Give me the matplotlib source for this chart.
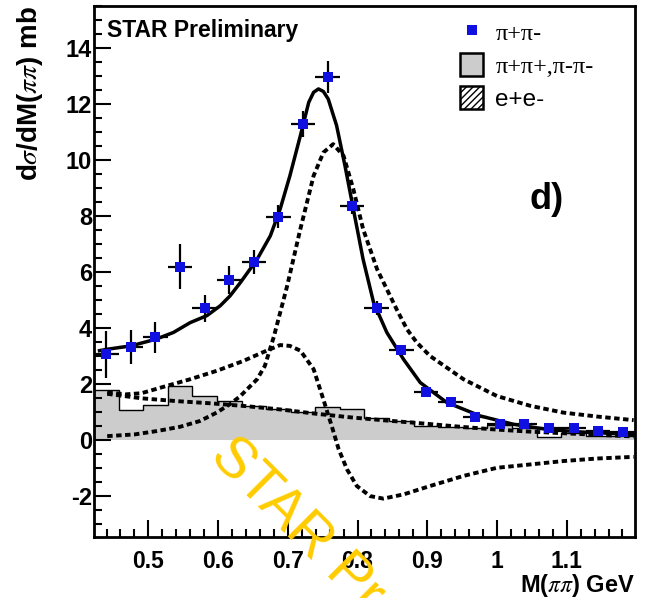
import numpy as np
import matplotlib
matplotlib.use("Agg")
import matplotlib.pyplot as plt
from matplotlib.lines import Line2D
from matplotlib.patches import Patch
from matplotlib.ticker import MultipleLocator

plt.rcParams['font.family'] = ['Liberation Sans', 'DejaVu Sans']
plt.rcParams['mathtext.fontset'] = 'stix'
plt.rcParams['axes.unicode_minus'] = False

# binning of the pi+pi- mass spectrum (GeV)
bin_edges = np.linspace(0.422, 1.198, 23)
bin_centers = 0.5 * (bin_edges[:-1] + bin_edges[1:])
half_width = 0.5 * (bin_edges[1] - bin_edges[0])

# pi+pi- data points (mb/GeV)
pipi_y = [3.07, 3.33, 3.67, 6.20, 4.71, 5.73, 6.37, 7.98, 11.29, 12.95, 8.37,
          4.71, 3.21, 1.74, 1.38, 0.83, 0.57, 0.60, 0.43, 0.45, 0.33, 0.30]
pipi_err = [0.83, 0.60, 0.57, 0.80, 0.48, 0.50, 0.42, 0.42, 0.48, 0.57, 0.30,
            0.25, 0.20, 0.12, 0.10, 0.08, 0.06, 0.06, 0.05, 0.05, 0.04, 0.04]

# like-sign pairs (pi+pi+, pi-pi-)
like_sign = [1.79, 1.08, 1.26, 1.94, 1.58, 1.40, 1.22, 1.11, 1.00, 1.19, 1.11,
             0.79, 0.69, 0.51, 0.49, 0.45, 0.55, 0.45, 0.13, 0.27, 0.17, 0.15]

# total fit
fit_x = [0.430, 0.441, 0.475, 0.511, 0.536, 0.560, 0.584, 0.603, 0.617, 0.632, 0.656,
         0.675, 0.689, 0.703, 0.718, 0.730, 0.737, 0.744, 0.751, 0.758, 0.770,
         0.782, 0.794, 0.808, 0.823, 0.842, 0.866, 0.890, 0.928, 0.976, 1.024,
         1.072, 1.119, 1.196]
fit_y = [3.20, 3.25, 3.37, 3.61, 3.85, 4.20, 4.45, 4.80, 5.15, 5.63, 6.46,
         7.30, 8.25, 9.44, 10.87, 12.06, 12.42, 12.54, 12.45, 12.18, 11.23,
         9.80, 8.25, 6.46, 4.92, 3.85, 2.89, 2.06, 1.35, 0.87, 0.57,
         0.39, 0.30, 0.21]

# rho Breit-Wigner component
rho_x = [0.441, 0.480, 0.512, 0.545, 0.574, 0.598, 0.617, 0.632, 0.656, 0.667,
         0.680, 0.699, 0.718, 0.737, 0.751, 0.765, 0.780, 0.794, 0.808, 0.828,
         0.856, 0.871, 0.885, 0.904, 0.952, 1.000, 1.048, 1.095, 1.143, 1.196]
rho_y = [0.15, 0.21, 0.33, 0.48, 0.69, 0.99, 1.29, 1.58, 2.18, 2.65,
         3.70, 5.50, 7.54, 9.44, 10.27, 10.57, 10.15, 8.96, 7.54, 6.11,
         4.68, 3.96, 3.49, 3.01, 2.18, 1.58, 1.23, 0.99, 0.85, 0.72]

# interference term
intf_x = [0.441, 0.467, 0.490, 0.526, 0.560, 0.598, 0.636, 0.665, 0.689, 0.703,
          0.718, 0.737, 0.751, 0.763, 0.773, 0.785, 0.799, 0.818, 0.837, 0.866,
          0.904, 0.952, 1.000, 1.048, 1.095, 1.143, 1.196]
intf_y = [1.72, 1.64, 1.68, 1.94, 2.18, 2.48, 2.83, 3.15, 3.40, 3.37,
          3.20, 2.54, 1.46, 0.51, -0.32, -1.04, -1.63, -1.99, -2.08, -1.93,
          -1.63, -1.27, -0.98, -0.86, -0.74, -0.65, -0.59]

# direct (non-resonant) pi+pi- term
direct_x = [0.441, 0.490, 0.540, 0.590, 0.640, 0.690, 0.740, 0.790, 0.840, 0.890,
            0.940, 0.990, 1.040, 1.090, 1.140, 1.196]
direct_y = [1.66, 1.50, 1.40, 1.32, 1.22, 1.10, 0.95, 0.82, 0.71, 0.61,
            0.50, 0.40, 0.32, 0.26, 0.20, 0.14]

fig = plt.figure(figsize=(6.48, 5.98), dpi=100)
ax = fig.add_axes([0.145, 0.102, 0.835, 0.888])

ax.stairs(like_sign, bin_edges, fill=True, color='#cccccc', zorder=1)
ax.stairs(like_sign, bin_edges, color='black', lw=1.0, zorder=2)

dots = (0, (1.4, 0.9))
ax.plot(rho_x, rho_y, color='black', lw=2.8, ls=dots, zorder=3)
ax.plot(intf_x, intf_y, color='black', lw=2.8, ls=dots, zorder=3)
ax.plot(direct_x, direct_y, color='black', lw=2.8, ls=dots, zorder=3)
ax.plot(fit_x, fit_y, color='black', lw=2.5, zorder=4)

ax.errorbar(bin_centers, pipi_y, xerr=half_width, yerr=pipi_err, fmt='none',
            ecolor='black', elinewidth=1.6, capsize=0, zorder=5)
ax.plot(bin_centers, pipi_y, 's', color='#1010e0', ms=7, mew=0, zorder=6)

ax.set_xlim(0.422, 1.198)
ax.set_ylim(-3.45, 15.5)
ax.xaxis.set_major_locator(MultipleLocator(0.1))
ax.xaxis.set_minor_locator(MultipleLocator(0.02))
ax.yaxis.set_major_locator(MultipleLocator(2))
ax.yaxis.set_minor_locator(MultipleLocator(0.5))
ax.set_xticks([0.5, 0.6, 0.7, 0.8, 0.9, 1.0, 1.1])
ax.set_xticklabels(['0.5', '0.6', '0.7', '0.8', '0.9', '1', '1.1'])
ax.tick_params(which='both', direction='in', top=False, right=False, width=1.5)
ax.tick_params(which='major', length=12)
ax.tick_params(which='minor', length=6)
ax.tick_params(axis='x', pad=9, labelsize=16.5)
ax.tick_params(axis='y', pad=1.5, labelsize=17)
for lab in ax.get_xticklabels() + ax.get_yticklabels():
    lab.set_fontweight('bold')
for sp in ax.spines.values():
    sp.set_linewidth(2)

ax.set_xlabel(r'M($\pi\pi$) GeV', fontsize=17, fontweight='bold', loc='right')
ax.xaxis.set_label_coords(1.0, -0.066)
ax.set_ylabel(r'd$\sigma$/dM($\pi\pi$) mb', fontsize=20, fontweight='bold', loc='top')
ax.yaxis.set_label_coords(-0.09, 1.0)

ax.text(0.024, 0.975, 'STAR Preliminary', transform=ax.transAxes, fontsize=16.5,
        fontweight='bold', ha='left', va='top')
ax.text(0.805, 0.635, 'd)', transform=ax.transAxes, fontsize=26,
        fontweight='bold', ha='left', va='center')

handles = [Line2D([], [], marker='s', color='#1010e0', ls='none', ms=7, mew=0),
           Patch(facecolor='#cccccc', edgecolor='black', lw=1.8),
           Patch(facecolor='white', edgecolor='black', hatch='/////', lw=1.8)]
labels = ['π+π-', 'π+π+,π-π-', 'e+e-']
leg = fig.legend(handles, labels, loc='upper left',
                 bbox_to_anchor=(460 / 648, 1 - 20 / 598), frameon=False,
                 borderpad=0, borderaxespad=0, handlelength=0.95,
                 handleheight=1.05, handletextpad=0.5, labelspacing=0.35,
                 fontsize=17.5)
leg.get_texts()[0].set_family('Liberation Serif')
leg.get_texts()[1].set_family('Liberation Serif')

fig.text(208 / 648, 1 - 458 / 598, 'STAR Preliminary', rotation=-45,
         rotation_mode='anchor', ha='left', va='baseline', color='#ffcc00',
         fontsize=41, zorder=10)

fig.savefig('out.png', dpi=100)
